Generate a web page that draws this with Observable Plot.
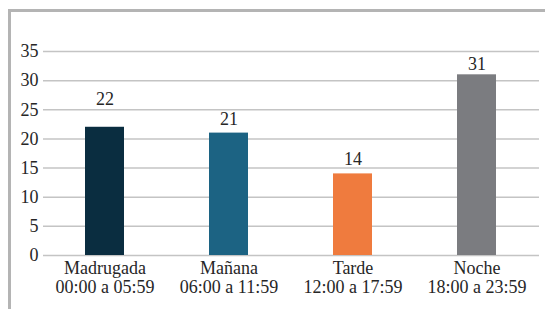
<!DOCTYPE html>
<html>
<head>
<meta charset="utf-8">
<script src="https://cdn.jsdelivr.net/npm/d3@7"></script>
<script src="https://cdn.jsdelivr.net/npm/@observablehq/plot@0.6"></script>
<style>
  html, body { margin: 0; padding: 0; background: #fff; }
  #wrap { position: relative; width: 545px; height: 309px; overflow: hidden; }
  #frame { position: absolute; left: 8px; top: 9px; width: 545px; height: 320px;
           border-top: 3px solid #b4b4b4; border-left: 3px solid #b4b4b4; box-sizing: border-box; }
  #chart { position: absolute; left: 0; top: 0; }
</style>
</head>
<body>
<div id="wrap"><div id="frame"></div><div id="chart"></div></div>
<script>
const categories = ["Madrugada", "Mañana", "Tarde", "Noche"];
const horarios = ["00:00 a 05:59", "06:00 a 11:59", "12:00 a 17:59", "18:00 a 23:59"];
const values = [22, 21, 14, 31];
const colors = ["#0a2d40", "#1c6383", "#ef7b3e", "#7b7c80"];
const yTicks = [0, 5, 10, 15, 20, 25, 30, 35];

const data = categories.map((c, i) => ({cat: c, hora: horarios[i], value: values[i], color: colors[i]}));
const labelOf = new Map(categories.map((c, i) => [c, c + "\n" + horarios[i]]));

const font = "Liberation Serif";
const fs = 18;
// label offsets (styling): the source places some value labels differently
const labelDy = {Madrugada: -28, "Mañana": -14, Tarde: -15, Noche: -11};
const valueLabels = categories.map(c =>
  Plot.text(data.filter(d => d.cat === c), {x: "cat", y: "value", text: d => String(d.value), dy: labelDy[c], fontSize: fs, fontFamily: font, fill: "#262626"})
);

const chart = Plot.plot({
  width: 545,
  height: 309,
  marginLeft: 43,
  marginRight: 6,
  marginTop: 51,
  marginBottom: 54,
  style: {fontFamily: font, fontSize: fs + "px", color: "#262626", background: "transparent"},
  x: {domain: categories, paddingInner: 0.685, paddingOuter: 0.3425, axis: null},
  y: {domain: [0, 35], axis: null},
  marks: [
    Plot.ruleY(yTicks, {stroke: "#c4c4c4", strokeWidth: 1.5}),
    Plot.barY(data, {x: "cat", y: "value", fill: "color"}),
    ...valueLabels,
    Plot.text(yTicks, {y: d => d, frameAnchor: "left", dx: -5, textAnchor: "end", text: d => String(d), fontSize: fs, fontFamily: font, fill: "#262626"}),
    Plot.text(data, {x: "cat", y: 0, text: d => labelOf.get(d.cat), lineAnchor: "top", dy: 5, lineHeight: 1.07, fontSize: fs, fontFamily: font, fill: "#262626"})
  ]
});
document.getElementById("chart").appendChild(chart);
</script>
</body>
</html>
